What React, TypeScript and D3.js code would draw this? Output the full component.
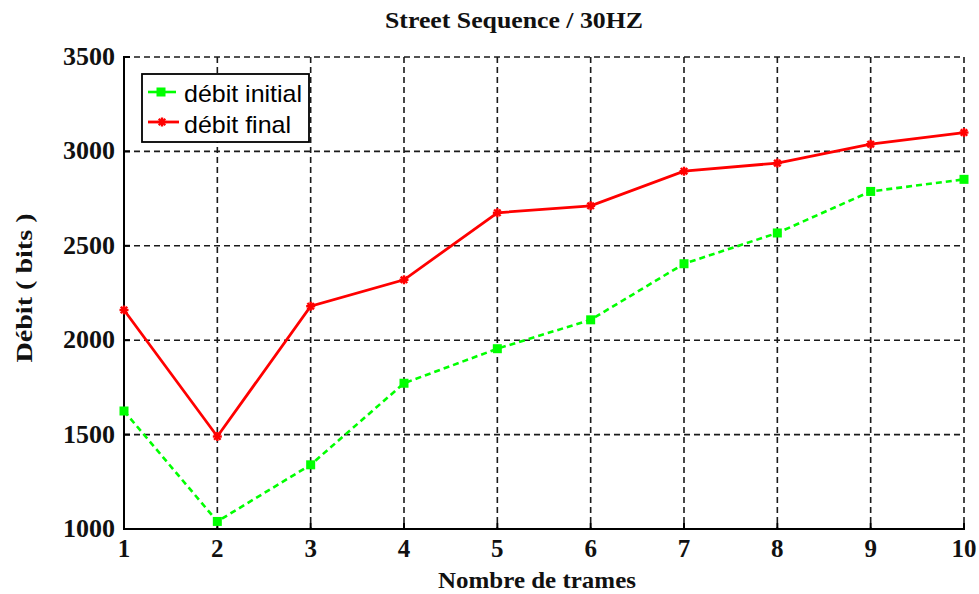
import React from "react";
import * as d3 from "d3";

// Frame counts on the x axis
const frames = [1, 2, 3, 4, 5, 6, 7, 8, 9, 10];
// Bit rate before and after, in bits
const debitInitial = [1625, 1040, 1340, 1772, 1955, 2108, 2405, 2568, 2788, 2852];
const debitFinal = [2160, 1490, 2180, 2320, 2675, 2712, 2895, 2938, 3038, 3100];
// Axis ticks
const xTicks = [1, 2, 3, 4, 5, 6, 7, 8, 9, 10];
const yTicks = [1000, 1500, 2000, 2500, 3000, 3500];

const W = 979;
const H = 594;
const plot = { left: 124, right: 964, top: 57, bottom: 529 };

const GREEN = "#00ff00";
const RED = "#ff0000";
const serif = "'Liberation Serif', 'Times New Roman', serif";
const sans = "'Liberation Sans', Arial, sans-serif";

function Asterisk({ cx, cy, r, color }: { cx: number; cy: number; r: number; color: string }) {
  const d = r * 0.72;
  return (
    <g stroke={color} strokeWidth={2.4} strokeLinecap="butt">
      <line x1={cx - r} y1={cy} x2={cx + r} y2={cy} />
      <line x1={cx} y1={cy - r} x2={cx} y2={cy + r} />
      <line x1={cx - d} y1={cy - d} x2={cx + d} y2={cy + d} />
      <line x1={cx - d} y1={cy + d} x2={cx + d} y2={cy - d} />
    </g>
  );
}

export default function App() {
  const x = d3.scaleLinear().domain([1, 10]).range([plot.left, plot.right]);
  const y = d3.scaleLinear().domain([1000, 3500]).range([plot.bottom, plot.top]);

  const line = d3
    .line<[number, number]>()
    .x((d) => x(d[0]))
    .y((d) => y(d[1]));

  const greenPts: [number, number][] = frames.map((f, i) => [f, debitInitial[i]]);
  const redPts: [number, number][] = frames.map((f, i) => [f, debitFinal[i]]);

  const sq = 9;

  return (
    <svg
      width={W}
      height={H}
      style={{ position: "absolute", left: 0, top: 0, background: "#fff" }}
    >
      <rect x={0} y={0} width={W} height={H} fill="#fff" />

      {/* title */}
      <text
        x={514}
        y={28}
        textAnchor="middle"
        fontFamily={serif}
        fontWeight="bold"
        fontSize={24}
        textLength={258}
        lengthAdjust="spacingAndGlyphs"
        fill="#111"
      >
        Street Sequence / 30HZ
      </text>

      {/* grid */}
      <g stroke="#1a1a1a" strokeWidth={1.6} strokeDasharray="6,4" fill="none">
        {yTicks
          .filter((t) => t !== 1000)
          .map((t) => (
            <line key={"gy" + t} x1={plot.left} x2={plot.right} y1={y(t)} y2={y(t)} />
          ))}
        {xTicks
          .filter((t) => t !== 1)
          .map((t) => (
            <line key={"gx" + t} x1={x(t)} x2={x(t)} y1={plot.top} y2={plot.bottom} />
          ))}
      </g>

      {/* axes */}
      <g stroke="#000" strokeWidth={2}>
        <line x1={plot.left} x2={plot.left} y1={plot.top - 1} y2={plot.bottom + 1} />
        <line x1={plot.left - 1} x2={plot.right + 1} y1={plot.bottom} y2={plot.bottom} />
        {yTicks.map((t) => (
          <line key={"ty" + t} x1={plot.left} x2={plot.left + 6} y1={y(t)} y2={y(t)} />
        ))}
        {xTicks.map((t) => (
          <line key={"tx" + t} x1={x(t)} x2={x(t)} y1={plot.bottom} y2={plot.bottom - 6} />
        ))}
      </g>

      {/* y tick labels */}
      <g fontFamily={serif} fontWeight="bold" fontSize={26} fill="#111" textAnchor="end">
        {yTicks.map((t) => (
          <text key={"ly" + t} x={115} y={y(t)} dy={8}>
            {t}
          </text>
        ))}
      </g>

      {/* x tick labels */}
      <g fontFamily={serif} fontWeight="bold" fontSize={25} fill="#111" textAnchor="middle">
        {xTicks.map((t) => (
          <text key={"lx" + t} x={x(t)} y={557}>
            {t}
          </text>
        ))}
      </g>

      {/* axis titles */}
      <text
        x={537}
        y={588}
        textAnchor="middle"
        fontFamily={serif}
        fontWeight="bold"
        fontSize={23}
        textLength={198}
        lengthAdjust="spacingAndGlyphs"
        fill="#111"
      >
        Nombre de trames
      </text>
      <text
        transform="translate(32,288) rotate(-90)"
        textAnchor="middle"
        fontFamily={serif}
        fontWeight="bold"
        fontSize={24}
        textLength={149}
        lengthAdjust="spacingAndGlyphs"
        fill="#111"
      >
        Débit ( bits )
      </text>

      {/* débit initial */}
      <path
        d={line(greenPts) ?? ""}
        fill="none"
        stroke={GREEN}
        strokeWidth={2.6}
        strokeDasharray="6,4"
      />
      {greenPts.map((p, i) => (
        <rect
          key={"g" + i}
          x={x(p[0]) - sq / 2}
          y={y(p[1]) - sq / 2}
          width={sq}
          height={sq}
          fill={GREEN}
        />
      ))}

      {/* débit final */}
      <path d={line(redPts) ?? ""} fill="none" stroke={RED} strokeWidth={2.8} />
      {redPts.map((p, i) => (
        <Asterisk key={"r" + i} cx={x(p[0])} cy={y(p[1])} r={4.5} color={RED} />
      ))}

      {/* legend */}
      <rect x={142} y={74} width={167} height={68} fill="#fff" stroke="#000" strokeWidth={1.8} />
      <line x1={148} x2={176} y1={92} y2={92} stroke={GREEN} strokeWidth={2.6} />
      <rect x={161 - sq / 2} y={92 - sq / 2} width={sq} height={sq} fill={GREEN} />
      <line x1={148} x2={179} y1={122} y2={122} stroke={RED} strokeWidth={2.8} />
      <Asterisk cx={162} cy={122} r={4.5} color={RED} />
      <g fontFamily={sans} fontSize={24} fill="#000">
        <text x={184} y={102} textLength={118} lengthAdjust="spacingAndGlyphs">
          débit initial
        </text>
        <text x={184} y={133} textLength={107} lengthAdjust="spacingAndGlyphs">
          débit final
        </text>
      </g>
    </svg>
  );
}
